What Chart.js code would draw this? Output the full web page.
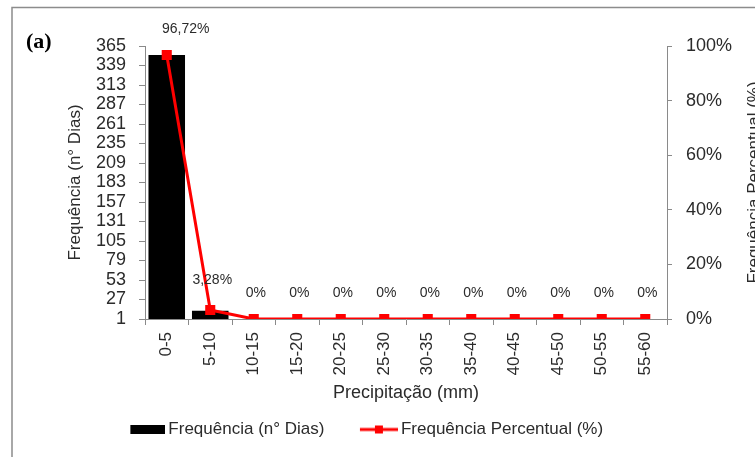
<!DOCTYPE html>
<html>
<head>
<meta charset="utf-8">
<script src="https://cdn.jsdelivr.net/npm/chart.js@4.4.1/dist/chart.umd.min.js"></script>
<style>
  html, body { margin: 0; padding: 0; background: #fff; overflow: hidden; }
</style>
</head>
<body>
<canvas id="freqChart" width="755" height="457"></canvas>
<script>
// Data
const categories = ["0-5", "5-10", "10-15", "15-20", "20-25", "25-30", "30-35", "35-40", "40-45", "45-50", "50-55", "55-60"];
const daysCount = [353, 12, 0, 0, 0, 0, 0, 0, 0, 0, 0, 0];
const percentValues = [96.72, 3.28, 0, 0, 0, 0, 0, 0, 0, 0, 0, 0];
const leftTicks = [1, 27, 53, 79, 105, 131, 157, 183, 209, 235, 261, 287, 313, 339, 365];
const rightTicks = [0, 20, 40, 60, 80, 100];

const FONT = "'Liberation Sans', Arial, sans-serif";
const textColor = "#2b2b2b";
const axisColor = "#8a8a8a";

const fmtPct = v => (v === 0 ? "0" : v.toFixed(2).replace(".", ",")) + "%";

// legend symbols (transparent on the left so the gaps look like the original)
const SYM_W = 69;
const barSymbol = document.createElement("canvas");
barSymbol.width = SYM_W; barSymbol.height = 9;
barSymbol.getContext("2d").fillRect(SYM_W - 35, 0, 35, 9);

const lineSymbol = document.createElement("canvas");
lineSymbol.width = SYM_W; lineSymbol.height = 12;
(function () {
  const c = lineSymbol.getContext("2d");
  const x0 = SYM_W - 38;
  c.strokeStyle = "#ff0000"; c.lineWidth = 3;
  c.beginPath(); c.moveTo(x0, 6); c.lineTo(SYM_W, 6); c.stroke();
  c.fillStyle = "#ff0000"; c.fillRect(x0 + 15, 2, 8, 8);
})();

// Extra drawing: frame, (a), right title, point labels
const decorPlugin = {
  id: "decor",
  afterLayout(chart) {
    // nudge the legend a bit left, as in the original
    chart.legend.left -= 25;
    chart.legend.right -= 25;
  },
  beforeDraw(chart) {
    const ctx = chart.ctx;
    ctx.save();
    ctx.strokeStyle = "#8c8c8c";
    ctx.lineWidth = 1.5;
    ctx.beginPath();
    ctx.moveTo(12, 470); ctx.lineTo(12, 7.5); ctx.lineTo(770, 7.5);
    ctx.stroke();
    ctx.restore();
  },
  afterDatasetsDraw(chart) {
    const ctx = chart.ctx;
    const meta = chart.getDatasetMeta(0);
    ctx.save();
    ctx.font = "14px " + FONT;
    ctx.fillStyle = textColor;
    ctx.textAlign = "center";
    ctx.textBaseline = "middle";
    meta.data.forEach((pt, i) => {
      const dx = i === 0 ? 19 : 2;
      const dy = i === 1 ? -30 : -26;
      ctx.fillText(fmtPct(percentValues[i]), pt.x + dx, pt.y + dy);
    });
    ctx.restore();
  },
  afterDraw(chart) {
    const ctx = chart.ctx;
    ctx.save();
    ctx.fillStyle = "#000";
    ctx.font = "bold 22px 'Liberation Serif', 'DejaVu Serif', serif";
    ctx.textBaseline = "alphabetic";
    ctx.fillText("(a)", 26, 48);
    // right axis title (rotated like the left one, partly cut by the edge)
    const area = chart.chartArea;
    ctx.font = "17px " + FONT;
    ctx.fillStyle = textColor;
    ctx.translate(754, (area.top + area.bottom) / 2);
    ctx.rotate(-Math.PI / 2);
    ctx.textAlign = "center";
    ctx.textBaseline = "middle";
    ctx.fillText("Frequência Percentual (%)", 0, 0);
    ctx.restore();
  }
};

const ctx = document.getElementById("freqChart").getContext("2d");
new Chart(ctx, {
  data: {
    labels: categories,
    datasets: [
      {
        type: "line",
        label: "Frequência Percentual (%)",
        data: percentValues,
        yAxisID: "yRight",
        borderColor: "#ff0000",
        backgroundColor: "#ff0000",
        borderWidth: 3,
        pointStyle: "rect",
        pointRadius: 5,
        tension: 0,
        fill: false,
      },
      {
        type: "bar",
        label: "Frequência (n° Dias)",
        data: daysCount,
        yAxisID: "yLeft",
        backgroundColor: "#000000",
        barPercentage: 0.84,
        categoryPercentage: 1,
      },
    ],
  },
  options: {
    responsive: false,
    animation: false,
    layout: { padding: { top: 46, left: 0, right: 0, bottom: 9 } },
    plugins: {
      tooltip: { enabled: false },
      legend: {
        position: "bottom",
        reverse: true,
        labels: {
          color: textColor,
          font: { family: FONT, size: 17 },
          usePointStyle: true,
          pointStyleWidth: SYM_W - 11,
          padding: 10,
          generateLabels(chart) {
            return chart.data.datasets.map((ds, i) => ({
              text: ds.label,
              pointStyle: ds.type === "bar" ? barSymbol : lineSymbol,
              fillStyle: ds.backgroundColor,
              strokeStyle: ds.backgroundColor,
              lineWidth: 0,
              fontColor: textColor,
              hidden: false,
              datasetIndex: i,
            }));
          },
        },
      },
    },
    scales: {
      x: {
        offset: true,
        grid: { offset: true, drawOnChartArea: false, tickLength: 6, color: axisColor },
        border: { color: axisColor },
        ticks: {
          color: textColor,
          font: { family: FONT, size: 17 },
          minRotation: 90,
          maxRotation: 90,
          autoSkip: false,
          padding: 7,
        },
        title: {
          display: true,
          text: "Precipitação (mm)",
          color: textColor,
          font: { family: FONT, size: 18 },
          padding: { top: 0, bottom: 7 },
        },
        afterFit(scale) { scale.height = 92; },
      },
      yLeft: {
        position: "left",
        min: 1,
        max: 365,
        afterBuildTicks(scale) { scale.ticks = leftTicks.map(v => ({ value: v })); },
        grid: { drawOnChartArea: false, tickLength: 6, color: axisColor },
        border: { color: axisColor },
        ticks: { color: textColor, font: { family: FONT, size: 18 }, padding: 13, autoSkip: false },
        title: {
          display: true,
          text: "Frequência (n° Dias)",
          color: textColor,
          font: { family: FONT, size: 17 },
          padding: { top: 65, bottom: 0 },
        },
        afterFit(scale) { scale.width = 145; },
      },
      yRight: {
        position: "right",
        min: 0,
        max: 100,
        afterBuildTicks(scale) { scale.ticks = rightTicks.map(v => ({ value: v })); },
        grid: { drawOnChartArea: false, tickLength: 5, color: axisColor },
        border: { color: axisColor },
        ticks: {
          color: textColor,
          font: { family: FONT, size: 18 },
          padding: 14,
          autoSkip: false,
          callback: v => v + "%",
        },
        afterFit(scale) { scale.width = 88; },
      },
    },
  },
  plugins: [decorPlugin],
});
</script>
</body>
</html>
